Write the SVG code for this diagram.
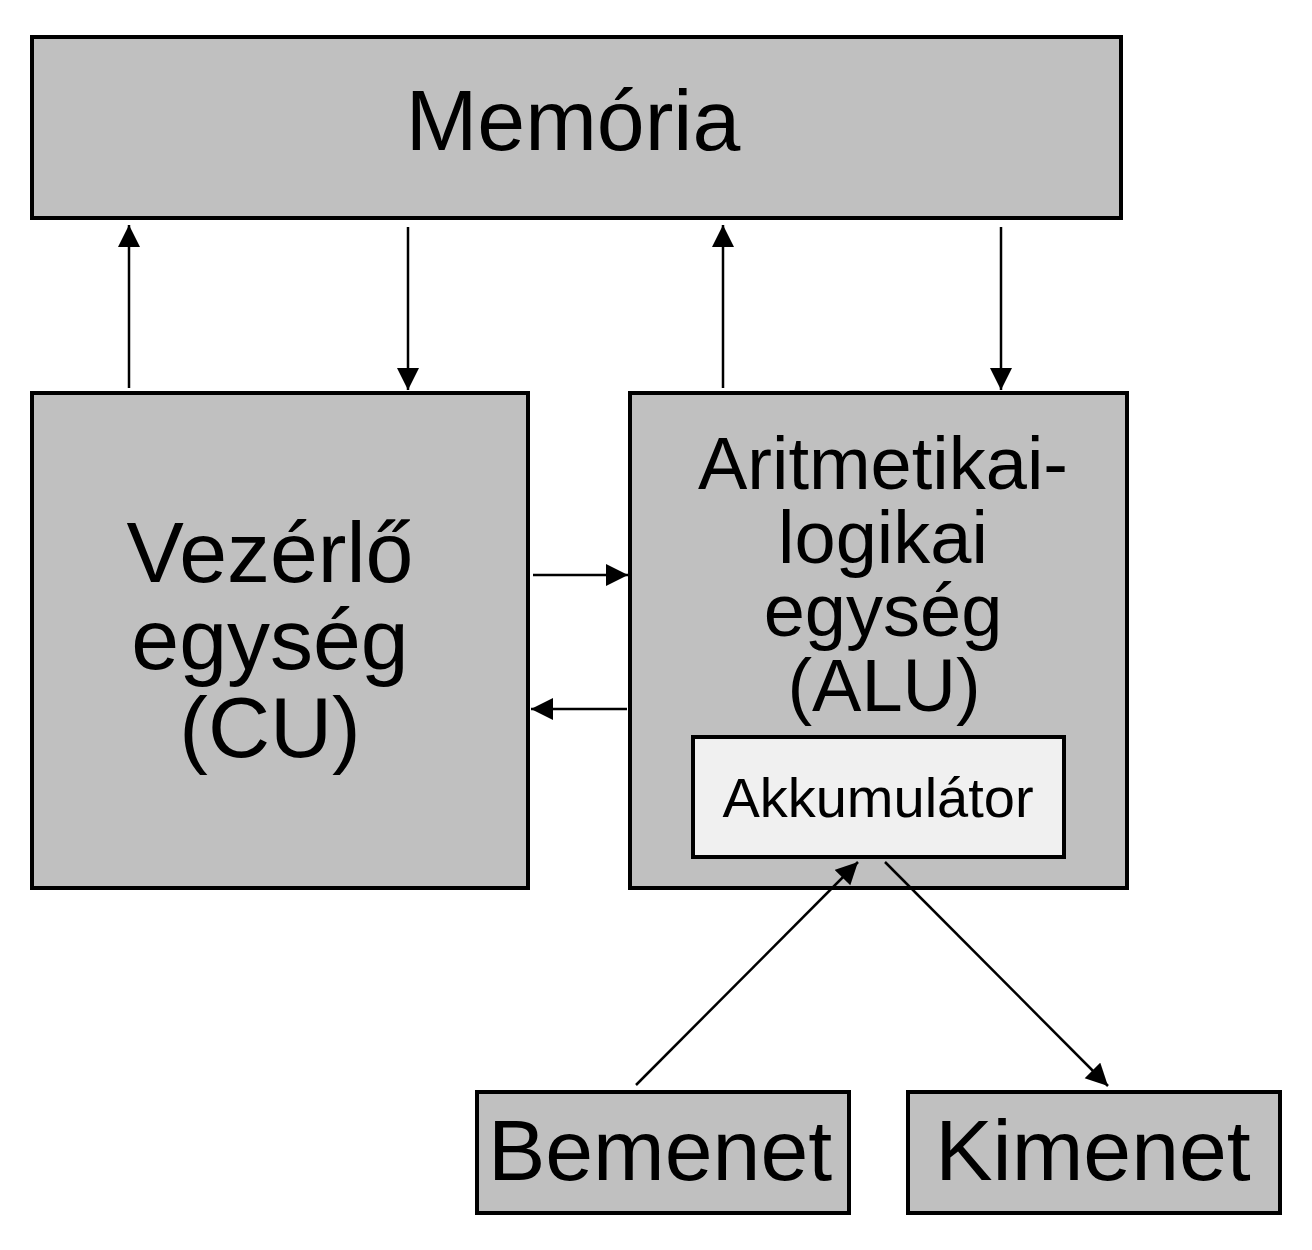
<svg xmlns="http://www.w3.org/2000/svg" width="1312" height="1250" viewBox="0 0 1312 1250">
  <style>
    .box { fill: #c0c0c0; stroke: #000; stroke-width: 4; }
    .inner { fill: #f0f0f0; stroke: #000; stroke-width: 4; }
    .lbl { font-family: "Liberation Sans", Arial, sans-serif; fill: #000; text-anchor: middle; }
    .conn { stroke: #000; stroke-width: 2.5; fill: none; marker-end: url(#arrow); }
  </style>
  <defs>
    <marker id="arrow" markerUnits="userSpaceOnUse" markerWidth="24" markerHeight="24" refX="22" refY="11" orient="auto">
      <path d="M0,0 L22,11 L0,22 Z" fill="#000"/>
    </marker>
  </defs>
  <rect width="1312" height="1250" fill="#fff"/>

  <g id="memoria">
    <rect class="box" x="32" y="37" width="1089" height="181"/>
    <text class="lbl" x="573" y="150" font-size="86">Memória</text>
  </g>

  <g id="cu">
    <rect class="box" x="32" y="393" width="496" height="495"/>
    <text class="lbl" x="270" y="582" font-size="86">Vezérlő</text>
    <text class="lbl" x="270" y="669" font-size="86">egység</text>
    <text class="lbl" x="270" y="757" font-size="86">(CU)</text>
  </g>

  <g id="alu">
    <rect class="box" x="630" y="393" width="497" height="495"/>
    <text class="lbl" x="883" y="489" font-size="74">Aritmetikai-</text>
    <text class="lbl" x="883" y="563" font-size="74">logikai</text>
    <text class="lbl" x="883" y="636" font-size="74">egység</text>
    <text class="lbl" x="884" y="711" font-size="74">(ALU)</text>
  </g>

  <g id="akkumulator">
    <rect class="inner" x="693" y="737" width="371" height="120"/>
    <text class="lbl" x="878" y="817" font-size="56">Akkumulátor</text>
  </g>

  <g id="bemenet">
    <rect class="box" x="477" y="1092" width="372" height="121"/>
    <text class="lbl" x="660" y="1180" font-size="86">Bemenet</text>
  </g>

  <g id="kimenet">
    <rect class="box" x="908" y="1092" width="372" height="121"/>
    <text class="lbl" x="1093" y="1180" font-size="86">Kimenet</text>
  </g>

  <g id="connectors">
    <line class="conn" x1="129" y1="388" x2="129" y2="225"/>
    <line class="conn" x1="408" y1="227" x2="408" y2="390"/>
    <line class="conn" x1="723" y1="388" x2="723" y2="225"/>
    <line class="conn" x1="1001" y1="227" x2="1001" y2="390"/>
    <line class="conn" x1="533" y1="575" x2="628" y2="575"/>
    <line class="conn" x1="627" y1="709" x2="531" y2="709"/>
    <line class="conn" x1="636" y1="1085" x2="858" y2="862"/>
    <line class="conn" x1="885" y1="862" x2="1108" y2="1086"/>
  </g>
</svg>
